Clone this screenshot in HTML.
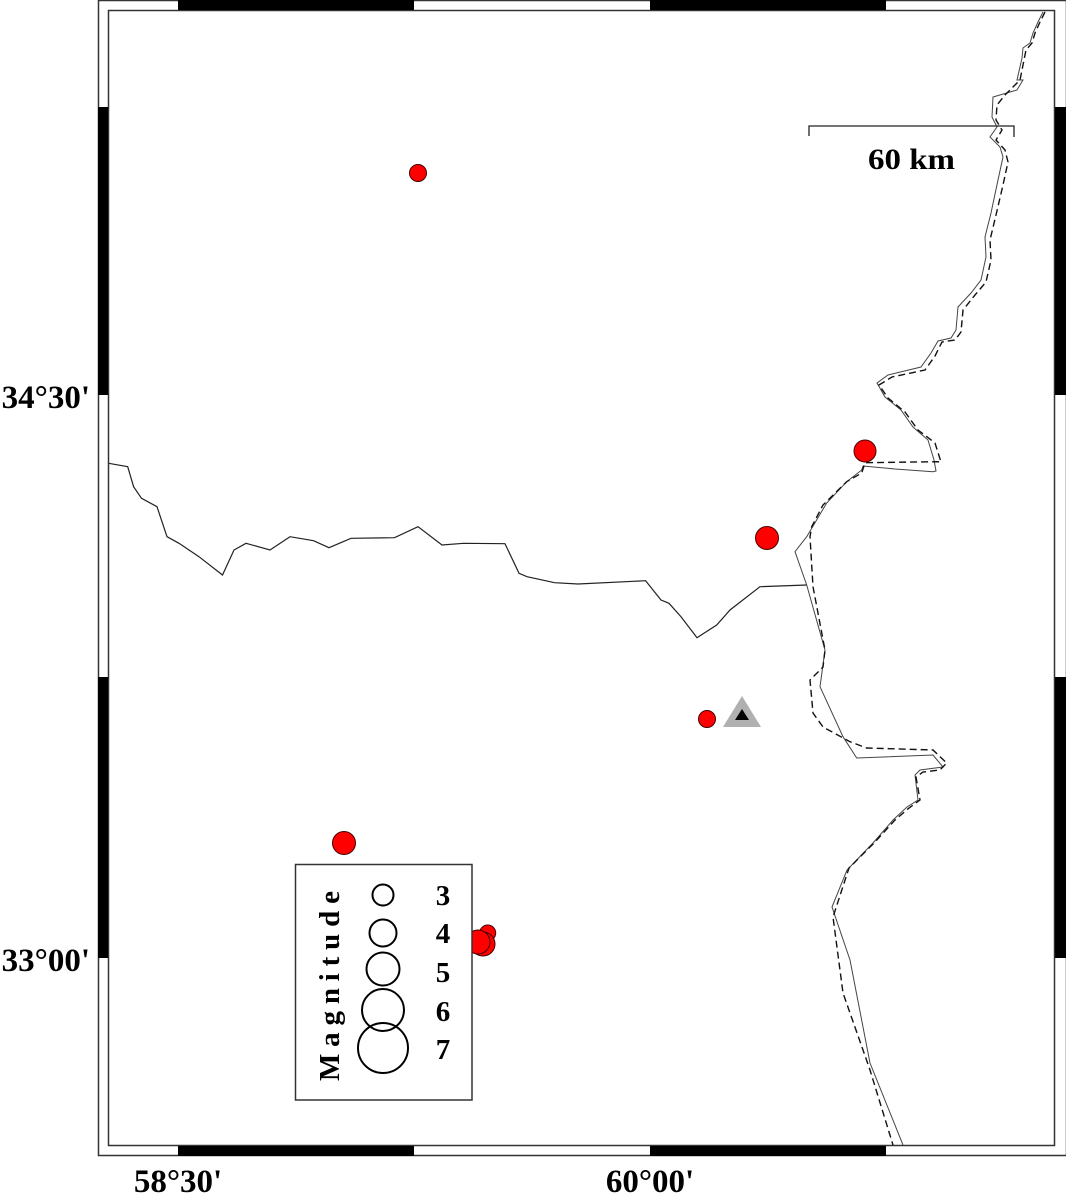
<!DOCTYPE html>
<html><head><style>
html,body{margin:0;padding:0;background:#fff;}
svg{display:block;}
text{font-family:"Liberation Serif",serif;font-weight:bold;fill:#000;}
</style></head><body>
<svg width="1066" height="1194" viewBox="0 0 1066 1194" xmlns="http://www.w3.org/2000/svg">
<!-- frame -->
<rect x="98.5" y="0.5" width="968" height="1155" fill="none" stroke="#333" stroke-width="1.5"/>
<rect x="108.5" y="10.5" width="946" height="1135" fill="none" stroke="#333" stroke-width="1.5"/>
<g fill="#000">
<rect x="178" y="0" width="236" height="10"/>
<rect x="650" y="0" width="236" height="10"/>
<rect x="178" y="1146" width="236" height="10"/>
<rect x="650" y="1146" width="236" height="10"/>
<rect x="98" y="107" width="10" height="288"/>
<rect x="98" y="677" width="10" height="281"/>
<rect x="1055" y="107" width="11" height="288"/>
<rect x="1055" y="677" width="11" height="281"/>
</g>
<!-- axis labels -->
<text x="90" y="408" font-size="33" text-anchor="end">34°30'</text>
<text x="90" y="971" font-size="33" text-anchor="end">33°00'</text>
<text x="178" y="1192" font-size="33" text-anchor="middle">58°30'</text>
<text x="650" y="1192" font-size="33" text-anchor="middle">60°00'</text>
<!-- inner border -->
<polyline fill="none" stroke="#222" stroke-width="1.2" points="108.7,463.3 127.7,466.7 133.6,486.7 141.5,498.3 157,506.7 167,536.7 179,543.3 199,556.7 222.5,575 234,550 246,543.3 270,550 290,536.7 313.5,540.7 329,547.7 351,538.3 394.5,537.7 418,526.7 442,545 463.6,543.3 505,543.7 519,573.3 527,576.7 554.6,582.7 578,584 645.6,580.7 661,600 669,603.3 681,616.7 697,637.7 716.7,625 730,610 760,586.7 806.7,585"/>
<!-- solid border east -->
<polyline fill="none" stroke="#444" stroke-width="1" points="1043,12 1038,22 1033,33 1030,43 1023,48 1022,58 1017,80 1023,80 1017,90 993,97 992,117 997,127 990,137 1000,147 1003,157 998,180 991,213 985,237 986,257 981,280 971,293 958,307 956,330 951,338 938,341 931,353 921,367 888,375 877,383 885,397 901,410 913,427 928,440 934,460 936,471 933,471.7 895,469 863,466 861.7,470 846.7,481.7 826.7,503 806.7,536.7 795,551.7 806.7,585 825,650 820,686.7 843,736.7 856.7,758 933,755 943,767 920,770 915,775 918,800 907,807 893,820 873,843 847,870 832,907 850,960 870,1063 903,1145"/>
<!-- dashed border -->
<polyline fill="none" stroke="#111" stroke-width="1.4" stroke-dasharray="7,4" points="1045,12 1040,22 1035,33 1032,43 1026,50 1024,60 1020,80 1005,95 997,105 996,120 1002,130 996,140 1005,150 1008,162 1003,185 996,215 990,240 991,260 986,282 975,295 963,310 961,332 955,340 942,342 935,356 925,370 892,377 879,385 888,398 905,412 918,430 935,443 941,462 936.7,461.7 865,462.7 861.7,473 846.7,481.7 823,505 811.7,526.7 810,536.7 813,586.7 825,650 823,667 810,680 813,713 823,727 850,741.7 866.7,748 933,750 946.7,763 940,770 923,772 916,777 920,800 909,808 895,820 875,842 849,868 833,917 843,993 870,1070 893,1145"/>
<!-- scale bar -->
<polyline fill="none" stroke="#222" stroke-width="1.3" points="809,136 809,126 1014,126 1014,137"/>
<text x="868" y="169" font-size="30" textLength="87" lengthAdjust="spacingAndGlyphs">60 km</text>
<!-- events -->
<g fill="#ff0000" stroke="#400" stroke-width="1">
<circle cx="418" cy="173" r="8.5"/>
<circle cx="865" cy="451" r="11"/>
<circle cx="767" cy="538" r="11.5"/>
<circle cx="707" cy="719" r="8.5"/>
<circle cx="344" cy="843" r="11.5"/>
<circle cx="487.7" cy="933" r="8"/>
<circle cx="483" cy="944" r="12"/>
<circle cx="478" cy="942" r="12"/>
</g>
<!-- station -->
<polygon points="742,696 761,727 723,727" fill="#b0b0b0"/>
<polygon points="742,709 749,720 735,720" fill="#000"/>
<!-- legend -->
<rect x="295.5" y="864.5" width="176.5" height="235.5" fill="#fff" stroke="#333" stroke-width="1.5"/>
<g fill="none" stroke="#000" stroke-width="2">
<circle cx="383" cy="895" r="10.5"/>
<circle cx="383" cy="933" r="13.5"/>
<circle cx="383" cy="969" r="16.5"/>
<circle cx="383" cy="1010" r="21"/>
<circle cx="383" cy="1048" r="25"/>
</g>
<g font-size="29" text-anchor="middle">
<text x="443" y="905">3</text>
<text x="443" y="943">4</text>
<text x="443" y="982">5</text>
<text x="443" y="1021">6</text>
<text x="443" y="1059">7</text>
</g>
<text transform="translate(339,1081) rotate(-90)" font-size="29" textLength="190" lengthAdjust="spacing">Magnitude</text>
</svg>
</body></html>
